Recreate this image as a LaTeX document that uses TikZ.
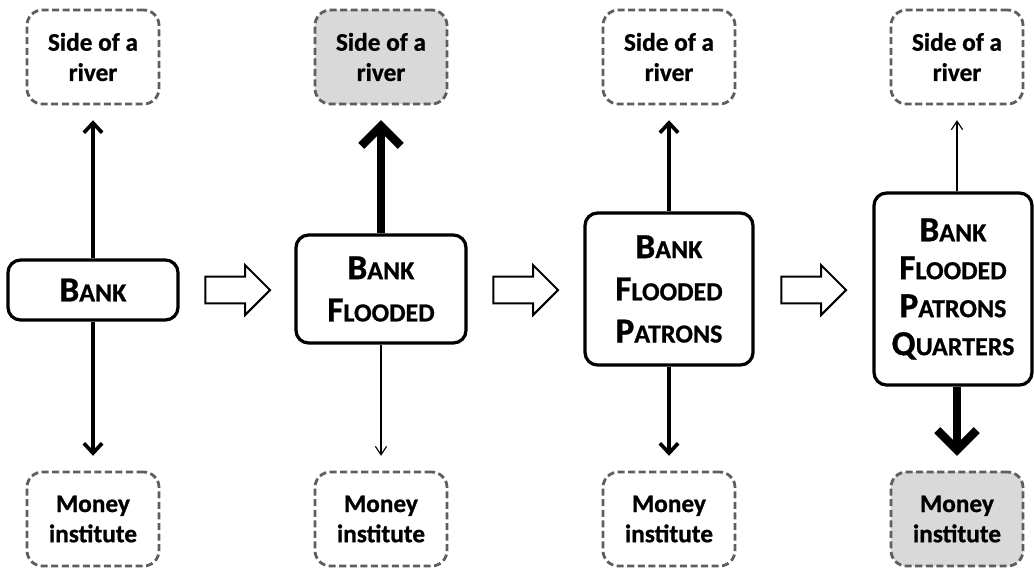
\documentclass[tikz,border=0pt]{standalone}
\usepackage{fontspec}
\setmainfont{Carlito}[BoldFeatures={FakeBold=0.8}]
\usetikzlibrary{arrows.meta,shapes.arrows}

% first letter big, rest as small capitals
\newcommand{\sm}[2]{#1{\fontsize{18.5}{27}\selectfont#2}}

\begin{document}
\begin{tikzpicture}[x=0.025cm, y=-0.025cm,
  state/.style={draw, line width=2.3pt, rounded corners=9pt, fill=white, align=center, inner sep=0pt,
    font=\fontsize{25}{30}\selectfont\bfseries},
  place/.style={draw=black!63, line width=2pt, dash pattern=on 5pt off 2.5pt, rounded corners=11pt,
    minimum width=3.3cm, minimum height=2.35cm, align=center, inner sep=0pt,
    font=\fontsize{18}{21.5}\selectfont\bfseries},
  hot/.style={place, fill=black!15},
  flowarrow/.style={single arrow, draw, line width=1.4pt, fill=white, inner xsep=0pt, inner ysep=0.31cm,
    minimum height=1.62cm, single arrow head extend=0.29cm},
  link/.style={line width=2.6pt, -{Straight Barb[length=7pt,width=13pt]}, shorten >=0.37cm},
  weak/.style={line width=0.8pt, -{Straight Barb[length=6pt,width=8pt]}, shorten >=0.37cm},
  strong/.style={line width=6pt, -{Straight Barb[length=14pt,width=28pt]}, shorten >=0.37cm}]
\useasboundingbox (0,0) rectangle (1034,568);

% the four stages
\node[state, minimum width=4.25cm, minimum height=1.5cm] (mid1) at (93,290) {\sm{B}{ANK}};
\node[state, minimum width=4.25cm, minimum height=2.7cm] (mid2) at (381,289) {\sm{B}{ANK}\\\sm{F}{LOODED}};
\node[state, minimum width=4.2cm, minimum height=3.8cm] (mid3) at (669,289) {\sm{B}{ANK}\\\sm{F}{LOODED}\\\sm{P}{ATRONS}};
\node[state, minimum width=3.95cm, minimum height=4.8cm, font=\fontsize{25}{27}\selectfont\bfseries]
  (mid4) at (953,289) {\sm{B}{ANK}\\\sm{F}{LOODED}\\\sm{P}{ATRONS}\\\sm{Q}{UARTERS}};

% the two meanings
\node[place] (side1) at (93,57) {Side of a\\river};
\node[hot]   (side2) at (381,57) {Side of a\\river};
\node[place] (side3) at (669,57) {Side of a\\river};
\node[place] (side4) at (957,57) {Side of a\\river};
\node[place] (money1) at (93,519) {Money\\institute};
\node[place] (money2) at (381,519) {Money\\institute};
\node[place] (money3) at (669,519) {Money\\institute};
\node[hot]   (money4) at (957,519) {Money\\institute};

% block arrows between stages
\node[flowarrow] (go1) at (231,290) {};
\node[flowarrow] (go2) at (519,290) {};
\node[flowarrow] (go3) at (807,290) {};

\draw[link] (mid1) -- (side1);
\draw[link] (mid1) -- (money1);
\draw[strong] (mid2) -- (side2);
\draw[weak] (mid2) -- (money2);
\draw[link] (mid3) -- (side3);
\draw[link] (mid3) -- (money3);
\draw[weak] (mid4.north -| side4) -- (side4);
\draw[strong] (mid4.south -| money4) -- (money4);
\end{tikzpicture}
\end{document}
